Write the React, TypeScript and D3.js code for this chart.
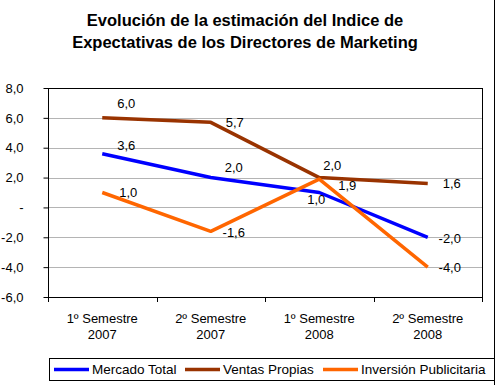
import React, { useEffect, useRef } from "react";
import * as d3 from "d3";

const categories = [
  ["1º Semestre", "2007"],
  ["2º Semestre", "2007"],
  ["1º Semestre", "2008"],
  ["2º Semestre", "2008"],
];
const mercadoTotal = [3.6, 2.0, 1.0, -2.0];
const ventasPropias = [6.0, 5.7, 2.0, 1.6];
const inversionPublicitaria = [1.0, -1.6, 1.9, -4.0];
const yTicks = [8, 6, 4, 2, 0, -2, -4, -6];

const series = [
  { name: "Mercado Total", values: mercadoTotal, color: "#0000ff" },
  { name: "Ventas Propias", values: ventasPropias, color: "#993300" },
  { name: "Inversión Publicitaria", values: inversionPublicitaria, color: "#ff6600" },
];

// label offsets (dx, dy) relative to each point, per series
const labelOffsets = [
  [[24, -8], [23, -10], [-3, 7], [22, 1]],
  [[24, -14], [24, 0], [13, -12], [24, 0]],
  [[26, 0], [23, 1], [28, 6], [22, 0]],
];

// excel style: comma decimals, plain hyphen minus, "-" for zero
const fmt = (v: number) =>
  v === 0 ? "-" : d3.format(".1f")(v).replace("\u2212", "-").replace(".", ",");

export default function App() {
  const ref = useRef<SVGSVGElement>(null);

  useEffect(() => {
    const svg = d3.select(ref.current);
    svg.selectAll("*").remove();
    const font = "'Liberation Sans', Arial, sans-serif";
    const margin = { left: 48, right: 15, top: 88, bottom: 88 };
    const width = 497;
    const height = 385;

    const x = d3
      .scaleBand<number>()
      .domain(d3.range(categories.length))
      .range([margin.left, width - margin.right]);
    const y = d3.scaleLinear().domain([-6, 8]).range([height - margin.bottom, margin.top]);

    // outer border (right side visible)
    svg.append("line")
      .attr("x1", 494.5).attr("x2", 494.5).attr("y1", 0).attr("y2", height)
      .attr("stroke", "#000").attr("stroke-width", 1);

    // title
    const title = svg.append("text")
      .attr("text-anchor", "middle")
      .attr("font-family", font)
      .attr("font-size", 16.5)
      .attr("font-weight", "bold")
      .attr("fill", "#000");
    title.append("tspan").attr("x", 245).attr("y", 26).text("Evolución de la estimación del Indice de");
    title.append("tspan").attr("x", 245).attr("y", 48).text("Expectativas de los Directores de Marketing");

    // gridlines
    svg.append("g")
      .selectAll("line")
      .data(yTicks.filter((t) => t !== 8 && t !== -6))
      .enter()
      .append("line")
      .attr("x1", margin.left)
      .attr("x2", width - margin.right)
      .attr("y1", (d) => Math.round(y(d)) + 0.5)
      .attr("y2", (d) => Math.round(y(d)) + 0.5)
      .attr("stroke", "#b4b4b4")
      .attr("stroke-width", 1);

    // plot border
    svg.append("rect")
      .attr("x", margin.left + 0.5)
      .attr("y", margin.top + 0.5)
      .attr("width", width - margin.right - margin.left)
      .attr("height", height - margin.bottom - margin.top)
      .attr("fill", "none")
      .attr("stroke", "#000");

    // y axis
    const yAxis = svg.append("g")
      .attr("transform", `translate(${margin.left + 0.5},0)`)
      .call(d3.axisLeft(y).tickValues(yTicks).tickSize(5).tickFormat((d: any) => fmt(d)));
    yAxis.select(".domain").remove();
    yAxis.selectAll("line").attr("stroke", "#000");
    yAxis.selectAll("text")
      .attr("x", -25)
      .attr("font-family", font)
      .attr("font-size", 13)
      .attr("fill", "#000");

    // x axis ticks at category boundaries
    const bounds = d3.range(categories.length + 1).map((i) =>
      i < categories.length ? x(i)! : x(categories.length - 1)! + x.bandwidth()
    );
    svg.append("g")
      .selectAll("line")
      .data(bounds)
      .enter()
      .append("line")
      .attr("x1", (d) => Math.round(d) + 0.5)
      .attr("x2", (d) => Math.round(d) + 0.5)
      .attr("y1", height - margin.bottom)
      .attr("y2", height - margin.bottom + 5)
      .attr("stroke", "#000");

    const xl = svg.append("g")
      .selectAll("text")
      .data(categories)
      .enter()
      .append("text")
      .attr("text-anchor", "middle")
      .attr("font-family", font)
      .attr("font-size", 13)
      .attr("fill", "#000");
    xl.append("tspan")
      .attr("x", (d, i) => x(i)! + x.bandwidth() / 2)
      .attr("y", 323)
      .text((d) => d[0]);
    xl.append("tspan")
      .attr("x", (d, i) => x(i)! + x.bandwidth() / 2)
      .attr("y", 339)
      .text((d) => d[1]);

    // lines
    const line = d3
      .line<number>()
      .x((d, i) => x(i)! + x.bandwidth() / 2)
      .y((d) => y(d));
    series.forEach((s) => {
      svg.append("path")
        .datum(s.values)
        .attr("d", line)
        .attr("fill", "none")
        .attr("stroke", s.color)
        .attr("stroke-width", 3.5)
        .attr("stroke-linejoin", "round");
    });

    // data labels
    series.forEach((s, si) => {
      svg.append("g")
        .selectAll("text")
        .data(s.values)
        .enter()
        .append("text")
        .attr("x", (d, i) => x(i)! + x.bandwidth() / 2 + labelOffsets[si][i][0])
        .attr("y", (d, i) => y(d) + labelOffsets[si][i][1])
        .attr("dy", "0.35em")
        .attr("text-anchor", "middle")
        .attr("font-family", font)
        .attr("font-size", 13)
        .attr("fill", "#000")
        .text((d) => fmt(d));
    });

    // legend
    const lg = svg.append("g");
    lg.append("rect")
      .attr("x", 49.5).attr("y", 358.5).attr("width", 445).attr("height", 22)
      .attr("fill", "#fff").attr("stroke", "#000");
    const legendX = [54, 185, 323];
    series.forEach((s, i) => {
      lg.append("line")
        .attr("x1", legendX[i]).attr("x2", legendX[i] + 35)
        .attr("y1", 369.5).attr("y2", 369.5)
        .attr("stroke", s.color).attr("stroke-width", 3.5);
      lg.append("text")
        .attr("x", legendX[i] + 38)
        .attr("y", 369.5)
        .attr("dy", "0.35em")
        .attr("font-family", font)
        .attr("font-size", 13.5)
        .attr("fill", "#000")
        .text(s.name);
    });
  }, []);

  return (
    <svg
      ref={ref}
      width={497}
      height={385}
      style={{ position: "absolute", left: 0, top: 0, background: "#fff" }}
    />
  );
}
